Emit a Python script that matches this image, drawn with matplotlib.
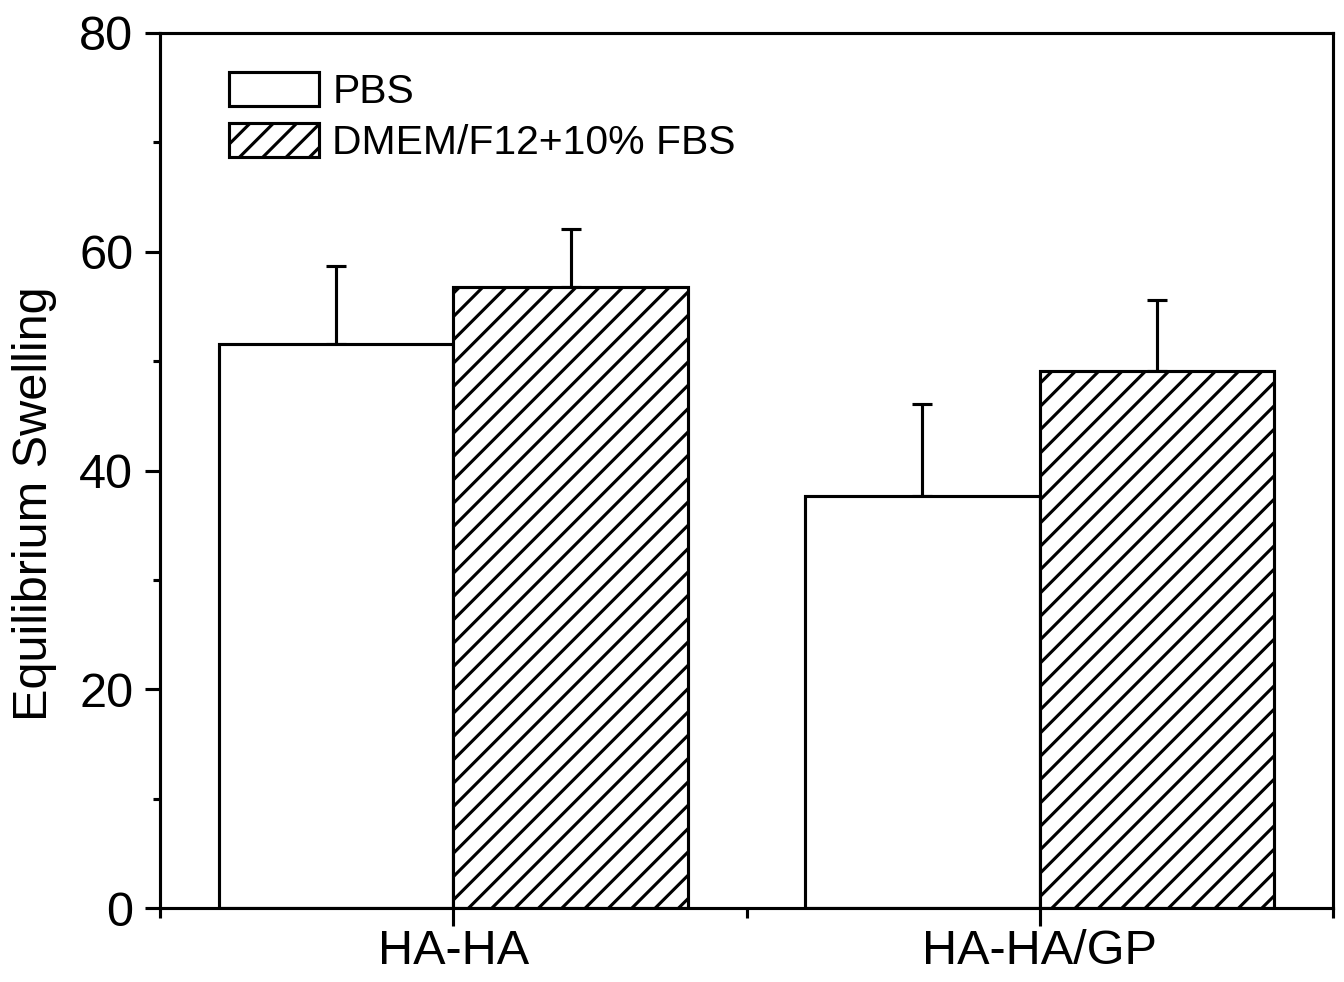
import matplotlib
matplotlib.use("Agg")
import matplotlib.pyplot as plt
from matplotlib.ticker import MultipleLocator, FixedLocator
import numpy as np

# Equilibrium swelling data
groups = ["HA-HA", "HA-HA/GP"]
media = ["PBS", "DMEM/F12+10% FBS"]
pbs_mean = [51.6, 37.7]
pbs_err = [7.1, 8.4]
dmem_mean = [56.8, 49.1]
dmem_err = [5.3, 6.5]

plt.rcParams['font.family'] = ['Liberation Sans', 'DejaVu Sans']
plt.rcParams['hatch.linewidth'] = 1.6
plt.rcParams['hatch.color'] = 'black'

# dpi 140 so the '//' hatch spacing matches the reference
fig = plt.figure(figsize=(1344 / 140, 982 / 140), dpi=140)
ax = fig.add_axes([160 / 1344, 1 - 908 / 982, 1173 / 1344, 875 / 982])

x = np.arange(1, len(groups) + 1)
width = 0.4
lw = 1.6

ax.bar(x - width / 2, pbs_mean, width, color='white', edgecolor='black',
       linewidth=lw, label=media[0], zorder=2)
ax.bar(x + width / 2, dmem_mean, width, color='white', edgecolor='black',
       linewidth=lw, hatch='//', label=media[1], zorder=2)

ax.errorbar(x - width / 2, pbs_mean, yerr=[np.zeros(2), pbs_err], fmt='none',
            ecolor='black', elinewidth=lw, capsize=5.2, capthick=lw, zorder=1)
ax.errorbar(x + width / 2, dmem_mean, yerr=[np.zeros(2), dmem_err], fmt='none',
            ecolor='black', elinewidth=lw, capsize=5.2, capthick=lw, zorder=1)

ax.set_xlim(0.5, 2.5)
ax.set_ylim(0, 80)
ax.set_xticks(x)
ax.set_xticklabels(groups)
ax.xaxis.set_minor_locator(FixedLocator([0.5, 1.5, 2.5]))
ax.yaxis.set_major_locator(MultipleLocator(20))
ax.yaxis.set_minor_locator(MultipleLocator(10))

ax.tick_params(axis='both', which='major', direction='out', width=lw,
               labelsize=25, top=False, right=False)
ax.tick_params(axis='y', which='major', length=7.7, pad=6)
ax.tick_params(axis='x', which='major', length=9, pad=2)
ax.tick_params(axis='y', which='minor', direction='out', length=3.8, width=lw)
ax.tick_params(axis='x', which='minor', direction='out', length=5, width=lw)

for sp in ax.spines.values():
    sp.set_linewidth(lw)

ax.set_ylabel('Equilibrium Swelling', fontsize=25)
ax.yaxis.set_label_coords(-0.088, 0.462)

ax.legend(loc='upper left', bbox_to_anchor=(0.0588, 0.955), frameon=False,
          fontsize=21, handlelength=2.2, handleheight=0.9,
          handletextpad=0.33, labelspacing=0.28, borderpad=0, borderaxespad=0)

fig.savefig('out.png', dpi=140, facecolor='white')
